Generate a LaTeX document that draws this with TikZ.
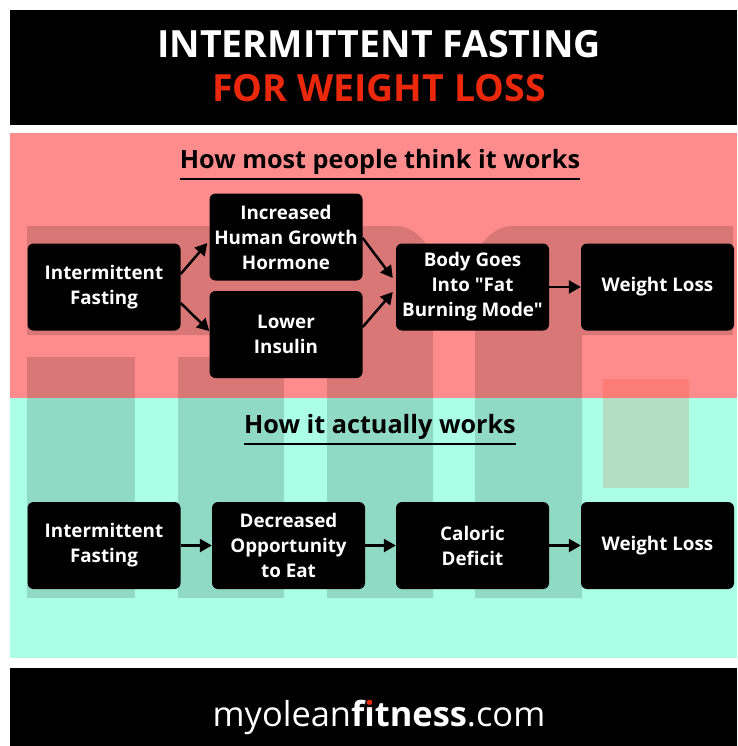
\documentclass[tikz,border=0pt]{standalone}
\usepackage{fontspec}
\setmainfont{Open Sans}[Ligatures=TeXOff]
\usetikzlibrary{arrows.meta}
\definecolor{hdrred}{RGB}{236,40,12}
\definecolor{pinkbg}{RGB}{255,140,140}
\definecolor{greenbg}{RGB}{170,255,228}
\tikzset{
  box/.style={fill=black,text=white,rounded corners=6pt,minimum width=153pt,minimum height=87pt,
    align=center,font=\fontsize{18.8}{25}\selectfont\bfseries,inner sep=0pt},
  arr/.style={line width=2.5pt,-{Triangle[length=12pt,width=13pt]}},
  wm/.style={fill=black,fill opacity=0.15},
  sechead/.style={font=\fontsize{25.2}{28}\selectfont\bfseries,inner sep=0pt,anchor=base},
  hdr/.style={font=\fontsize{37.5}{40}\selectfont\bfseries,anchor=base,inner sep=0pt},
}
\begin{document}
\begin{tikzpicture}[x=1pt,y=-1pt]
\useasboundingbox (0,0) rectangle (737,746);
\fill[white] (0,0) rectangle (737,746);
% panels
\fill[black] (10,10) rectangle (737,125);
\fill[pinkbg] (10,133) rectangle (737,398);
\fill[greenbg] (10,398) rectangle (737,658);
\fill[black] (10,668) rectangle (737,746);
% watermark
\fill[wm] (27,226) -- (395,226) .. controls (416,226) and (433,247) .. (433,264) -- (433,598) -- (327,598) -- (327,335) -- (27,335) -- cycle;
\fill[wm] (27,357) rectangle (135,598);
\fill[wm] (178,357) rectangle (284,598);
\fill[wm] (733,226) -- (513,226) .. controls (492,226) and (475,247) .. (475,264) -- (475,598) -- (582,598) -- (582,335) -- (733,335) -- cycle;
\fill[hdrred,fill opacity=0.15] (603,379) rectangle (689,488);
% header
\node[hdr,text=white] (t1) at (379,58) {INTERMITTENT FASTING};
\node[hdr,text=hdrred] (t2) at (379,102) {FOR WEIGHT LOSS};
% section headings
\node[sechead] (h1) at (380,168) {How most people think it works};
\draw[line width=2pt] (h1.west |- 0,179) coordinate (u1a) -- (h1.east |- 0,179) coordinate (u1b);
\node[sechead] (h2) at (380,433) {How it actually works};
\draw[line width=2pt] (h2.west |- 0,444) coordinate (u2a) -- (h2.east |- 0,444) coordinate (u2b);
% top row
\node[box] (if1) at (104,287) {Intermittent\\Fasting};
\node[box] (hgh) at (286,237) {Increased\\Human Growth\\Hormone};
\node[box] (low) at (286,334.5) {Lower\\Insulin};
\node[box] (body) at (472.5,287) {Body Goes\\Into "Fat\\Burning Mode"};
\node[box] (wl1) at (657.5,287) {Weight Loss};
\draw[arr] ([yshift=13pt]if1.east) -- ([xshift=-2pt,yshift=-6pt]hgh.west);
\draw[arr] ([yshift=-16pt]if1.east) -- ([yshift=3.5pt]low.west);
\draw[arr] ([yshift=-1pt]hgh.east) -- ([xshift=-3pt,yshift=9pt]body.west);
\draw[arr] ([yshift=7.5pt]low.east) -- ([xshift=-3pt,yshift=-5pt]body.west);
\draw[arr] (body.east) -- (wl1.west);
% bottom row
\node[box] (if2) at (104,545.5) {Intermittent\\Fasting};
\node[box] (dec) at (288.5,545.5) {Decreased\\Opportunity\\to Eat};
\node[box] (cal) at (472.5,545.5) {Caloric\\Deficit};
\node[box] (wl2) at (657.5,545.5) {Weight Loss};
\draw[arr] (if2) -- (dec);
\draw[arr] (dec) -- (cal);
\draw[arr] (cal) -- (wl2);
% footer
\node[text=white,font=\fontsize{34.4}{38}\selectfont,anchor=base,inner sep=0pt] (foot) at (379,726)
  {myolean\textbf{f\rlap{\textcolor{hdrred}{i}}ı{}tness}.com};
\end{tikzpicture}
\end{document}
